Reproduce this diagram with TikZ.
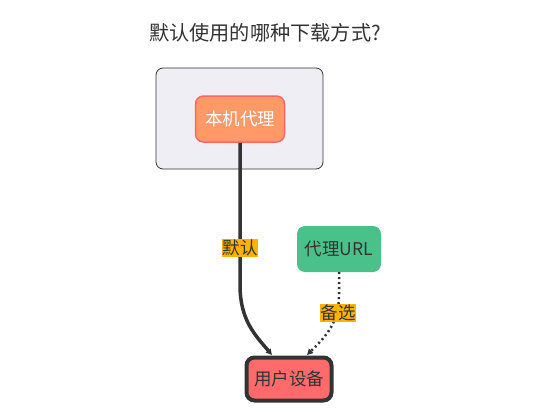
\documentclass[tikz,border=0pt]{standalone}
\usepackage{fontspec}
\setmainfont{Noto Sans CJK SC}
\usepackage{tikz}
\usetikzlibrary{arrows.meta,positioning}

\definecolor{clusterbg}{HTML}{EFEEF4}
\definecolor{darkline}{HTML}{333333}
\definecolor{localfill}{HTML}{FF9966}
\definecolor{localline}{HTML}{FF6666}
\definecolor{urlfill}{HTML}{4BC18A}
\definecolor{devicefill}{HTML}{FF6B6B}
\definecolor{lblbg}{HTML}{FFB300}

\tikzset{
  box/.style={rounded corners=8pt, minimum width=88pt, minimum height=46pt, inner sep=2pt, font=\fontsize{17.5}{20}\selectfont},
  lbl/.style={fill=lblbg, inner sep=0.5pt, text=darkline, font=\fontsize{17.5}{20}\selectfont},
  tip/.style={-{Triangle[length=6pt,width=6pt]}}
}

\begin{document}
\begin{tikzpicture}[x=1pt,y=-1pt]
        \useasboundingbox (0,0) rectangle (541,420);
        \node[text=darkline, font=\fontsize{20.2}{23}\selectfont] (title) at (265,33) {默认使用的哪种下载方式?};
        \node[draw=darkline, fill=clusterbg, rounded corners=7pt, line width=0.8pt, minimum width=167pt, minimum height=101pt] (cluster) at (239.5,118.5) {};
        \node[box, fill=localfill, draw=localline, line width=1.5pt, text=white, minimum width=89pt] (local) at (240,119) {本机代理};
        \node[box, fill=urlfill, text=darkline, minimum width=84pt] (url) at (339,249) {代理URL};
        \node[box, fill=devicefill, draw=darkline, line width=4pt, text=darkline, minimum width=85pt, minimum height=43pt] (device) at (289,379) {用户设备};
        \coordinate (defend) at (272,355);
        \coordinate (altend) at (307,355);
        \draw[tip, darkline, line width=3.5pt] (local.south) -- (240,285) .. controls (240,320) and (255,335) .. (defend);
        \draw[tip, darkline, line width=2.5pt, dash pattern=on 2pt off 3pt] (url.south) -- (339,296) .. controls (339,325) and (322,340) .. (altend);
        \node[lbl] (deflbl) at (240,248) {默认};
        \node[lbl] (altlbl) at (338,313) {备选};
\end{tikzpicture}
\end{document}
